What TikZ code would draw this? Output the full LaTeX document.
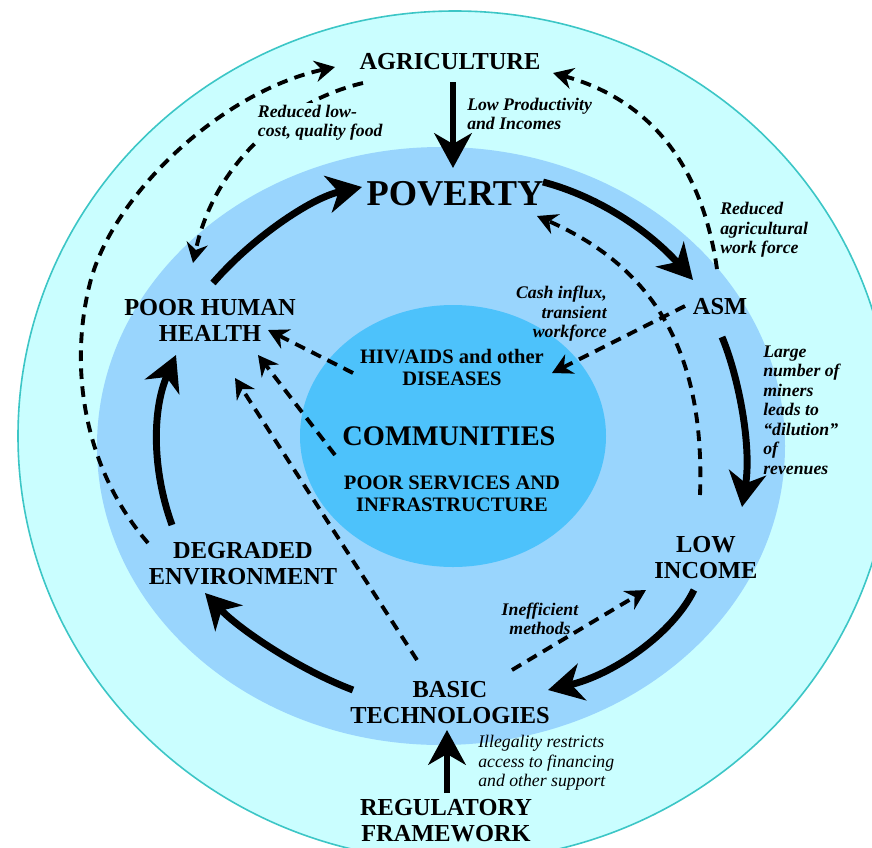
\documentclass[tikz,border=0pt]{standalone}
\usepackage{fontspec}
\setmainfont{Liberation Serif}
\usetikzlibrary{arrows.meta}
\definecolor{outerc}{HTML}{CAFEFF}
\definecolor{outerl}{HTML}{3CC6C6}
\definecolor{midc}{HTML}{99D5FD}
\definecolor{innc}{HTML}{4DC2FB}
\begin{document}
\begin{tikzpicture}[x=0.75pt,y=-0.75pt,
  lbl/.style={font=\bfseries\fontsize{18.3}{19.5}\selectfont, align=center, inner sep=0pt},
  biglbl/.style={font=\bfseries\fontsize{27.3}{28}\selectfont, inner sep=0pt},
  commlbl/.style={font=\bfseries\fontsize{21.3}{22}\selectfont, inner sep=0pt},
  smlbl/.style={font=\bfseries\fontsize{15.4}{16.5}\selectfont, align=center, inner sep=0pt},
  note/.style={font=\bfseries\itshape\fontsize{13.3}{14.6}\selectfont, inner sep=0pt},
  plainnote/.style={font=\itshape\fontsize{13.3}{14.6}\selectfont, inner sep=0pt},
  solidarr/.style={line width=5.2pt, -{Stealth[length=26pt,width=28pt,inset=8pt]}},
  dasharr/.style={line width=2.9pt, dash pattern=on 8pt off 5.5pt, -{Stealth[length=15pt,width=16pt,inset=5pt]}}
]
\useasboundingbox (0,0) rectangle (872,847);
\clip (0,0) rectangle (872,847);
\fill[white] (0,0) rectangle (872,847);
\filldraw[fill=outerc, draw=outerl, line width=1.2pt] (455,436) ellipse [x radius=437, y radius=425];
\fill[midc] (441,446) ellipse [x radius=344, y radius=299];
\fill[innc] (453,436) ellipse [x radius=153, y radius=131];

% main nodes
\node[lbl] (agri) at (450,62) {AGRICULTURE};
\node[biglbl] (pov) at (455,194) {POVERTY};
\node[lbl] (asm) at (720,307) {ASM};
\node[lbl] (hh) at (210,320) {POOR HUMAN\\HEALTH};
\node[smlbl] (hiv) at (452,367) {HIV/AIDS and other\\DISEASES};
\node[commlbl] (comm) at (449,436) {COMMUNITIES};
\node[smlbl] (serv) at (452,494) {POOR SERVICES AND\\INFRASTRUCTURE};
\node[lbl] (low) at (706,558) {LOW\\INCOME};
\node[lbl] (deg) at (243,564) {DEGRADED\\ENVIRONMENT};
\node[lbl] (basic) at (450,703) {BASIC\\TECHNOLOGIES};
\node[lbl] (reg) at (446,821) {REGULATORY\\FRAMEWORK};

% solid cycle arrows
\draw[solidarr] ([shift={(3,20)}]agri.center) -- ([shift={(-2,-26)}]pov.center);
\draw[solidarr] ([shift={(3,-37)}]hh.center) .. controls (250,240) and (310,198) .. ([shift={(-93,-7)}]pov.center);
\draw[solidarr] ([shift={(88,-12)}]pov.center) .. controls (600,197) and (650,232) .. ([shift={(-27,-27)}]asm.center);
\draw[solidarr] ([shift={(2,30)}]asm.center) .. controls (738,375) and (752,445) .. ([shift={(36,-51)}]low.center);
\draw[solidarr] ([shift={(-12,32)}]low.center) .. controls (672,635) and (612,675) .. ([shift={(98,-13)}]basic.center);
\draw[solidarr] ([shift={(-97,-13)}]basic.center) .. controls (300,670) and (240,630) .. ([shift={(-38,29)}]deg.center);
\draw[solidarr] ([shift={(-71,-39)}]deg.center) .. controls (152,470) and (152,410) .. ([shift={(-34,35)}]hh.center);
\draw[solidarr] ([shift={(1,-28)}]reg.center) -- ([shift={(-3,27)}]basic.center);

% dashed arrows
\draw[dasharr] ([shift={(-95,-21)}]deg.center) .. controls (85,470) and (68,370) .. (90,283) .. controls (112,196) and (220,92) .. ([shift={(-115,5)}]agri.center);
\draw[dasharr] ([shift={(-87,21)}]agri.center) .. controls (290,100) and (215,160) .. ([shift={(-17,-57)}]hh.center);
\draw[dasharr] ([shift={(-3,-38)}]asm.center) .. controls (702,165) and (650,100) .. ([shift={(103,11)}]agri.center);
\draw[dasharr] ([shift={(-6,-63)}]low.center) .. controls (705,360) and (660,270) .. ([shift={(82,22)}]pov.center);
\draw[dasharr] ([shift={(-35,-1)}]asm.center) -- ([shift={(100,6)}]hiv.center);
\draw[dasharr] ([shift={(-99,6)}]hiv.center) -- ([shift={(58,10)}]hh.center);
\draw[dasharr] ([shift={(-117,-39)}]serv.center) -- ([shift={(48,35)}]hh.center);
\draw[dasharr] ([shift={(-33,-43)}]basic.center) -- ([shift={(25,58)}]hh.center);
\draw[dasharr] ([shift={(62,-33)}]basic.center) -- ([shift={(-60,32)}]low.center);

% notes
\node[note, anchor=west, align=left, fill=outerc, inner sep=2pt] (n1) at (255,123) {Reduced low-\\cost, quality food};
\node[note, anchor=west, align=left] (n2) at (467,114) {Low Productivity\\and Incomes};
\node[note, anchor=west, align=left] (n3) at (720,230) {Reduced\\agricultural\\work force};
\node[note, anchor=east, align=right] (n4) at (607,314) {Cash influx,\\transient\\workforce};
\node[note, anchor=west, align=left] (n5) at (763,410) {Large\\number of\\miners\\leads to\\“dilution”\\of\\revenues};
\node[note, align=center] (n6) at (540,619) {Inefficient\\methods};
\node[plainnote, anchor=west, align=left] (n7) at (478,763) {Illegality restricts\\access to financing\\and other support};
\end{tikzpicture}
\end{document}
